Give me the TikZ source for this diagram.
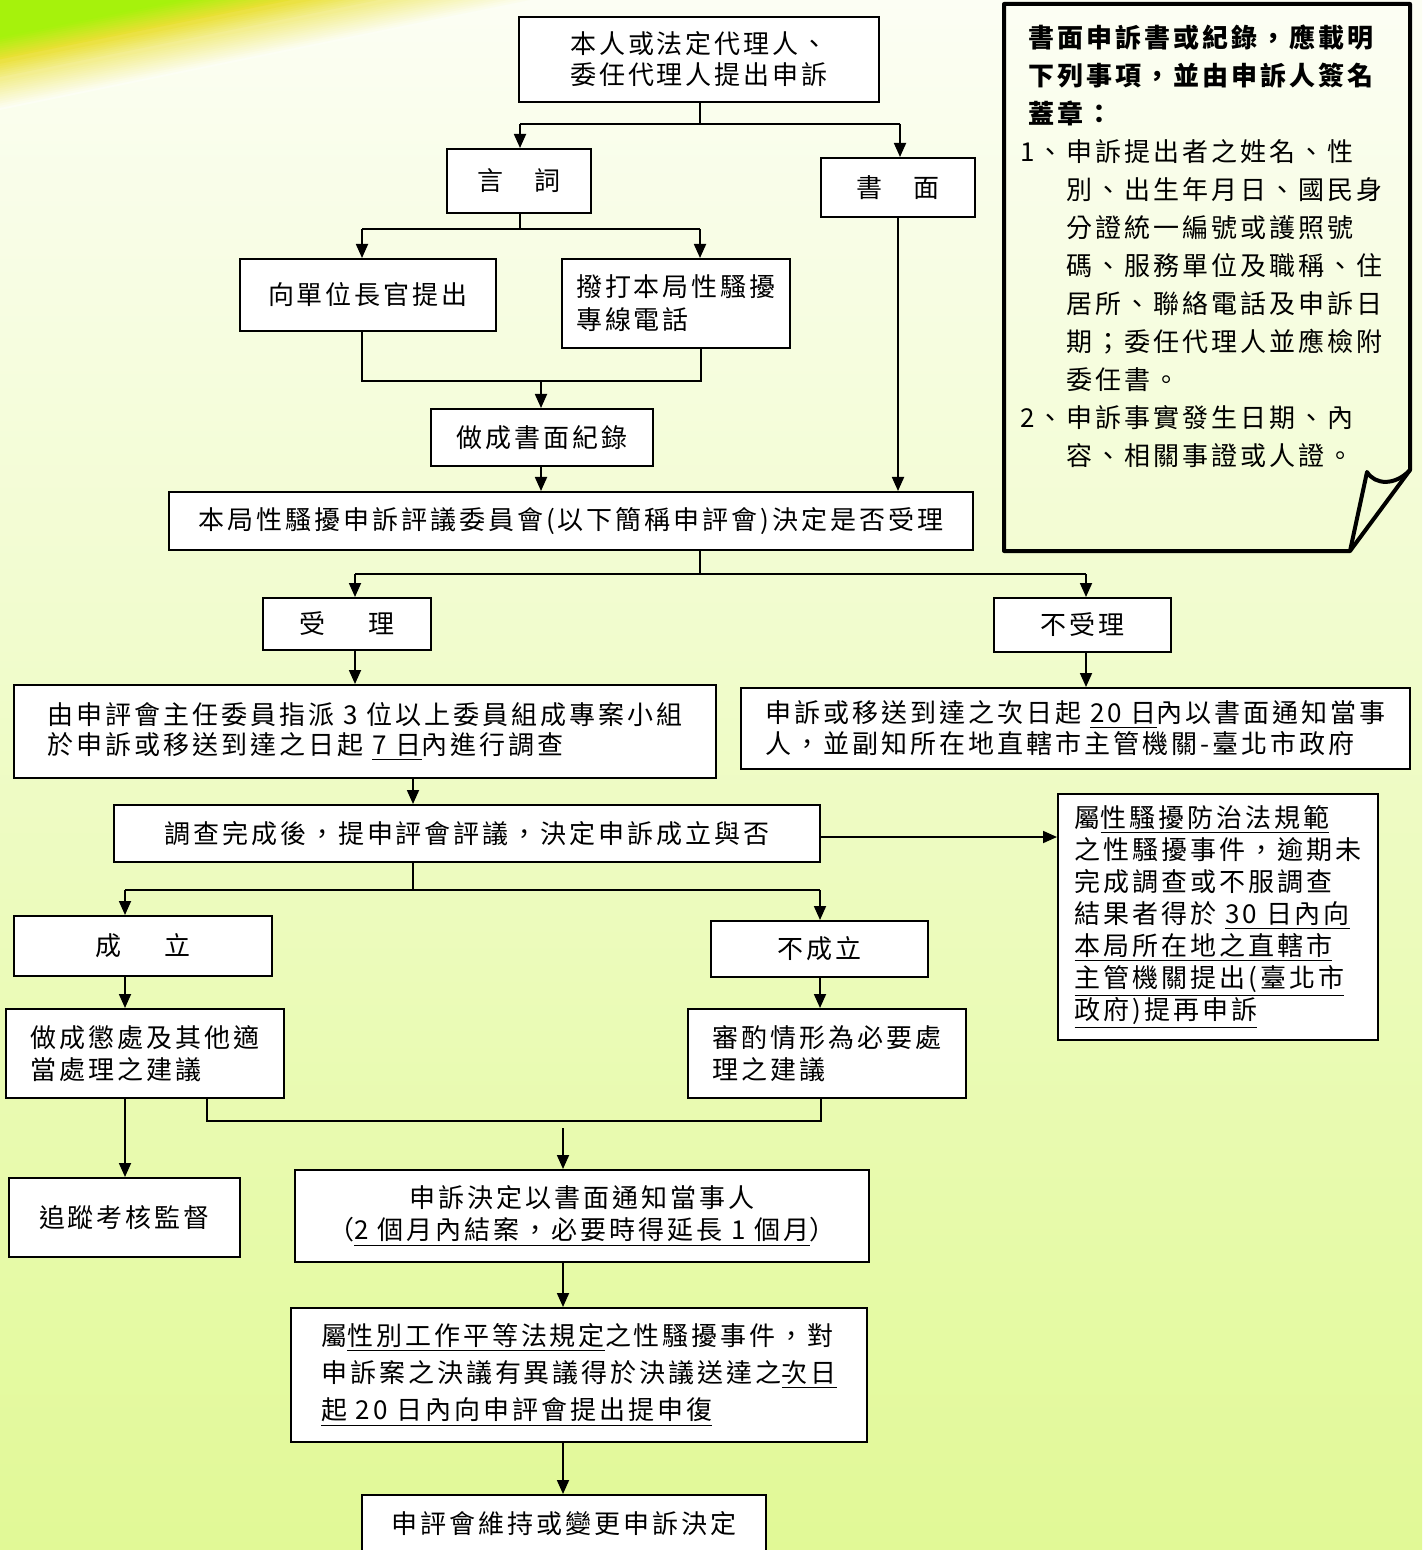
\documentclass[tikz,border=0pt]{standalone}
\usepackage{fontspec}
\setmainfont{Noto Sans CJK TC}[LetterSpace=11.5]
\usetikzlibrary{arrows.meta}
\definecolor{bgtop}{HTML}{FCFEF4}
\definecolor{bgmid}{HTML}{F1FBD2}
\definecolor{bgbot}{HTML}{E1F996}
\definecolor{limec}{HTML}{A6F20C}
\definecolor{goldc}{HTML}{EAE034}
\begin{document}
\begin{tikzpicture}[x=0.5pt,y=-0.5pt,
  box/.style={draw=black, line width=1pt, fill=white, inner sep=0pt, align=center, font=\fontsize{13}{16}\selectfont},
  lbox/.style={box, align=left},
  conn/.style={line width=0.9pt},
  arr/.style={conn, -{Triangle[length=7pt,width=6pt]}},
  notestyle/.style={line width=2pt, line join=round},
]
\useasboundingbox (0,0) rectangle (1422,1550);
\clip (0,0) rectangle (1422,1550);
% background
\shade[top color=bgtop, middle color=bgmid, bottom color=bgbot] (0,0) rectangle (1422,1550);
% top-left swoosh: nested triangles
\foreach \t in {1.00,0.98,...,0.72}{
  \pgfmathtruncatemacro\p{(1-\t)/0.30*60}
  \fill[goldc!\p!bgtop] (0,0) -- ({540*\t},0) -- (0,{110*\t}) -- cycle;
}
\foreach \t in {0.70,0.68,...,0.56}{
  \pgfmathtruncatemacro\p{60+(0.70-\t)/0.15*40}
  \fill[goldc!\p!bgtop] (0,0) -- ({540*\t},0) -- (0,{110*\t}) -- cycle;
}
\foreach \t in {0.54,0.52,...,0.36}{
  \pgfmathtruncatemacro\p{(0.55-\t)/0.20*100}
  \fill[limec!\p!goldc] (0,0) -- ({540*\t},0) -- (0,{110*\t}) -- cycle;
}
\fill[limec] (0,0) -- ({540*0.34},0) -- (0,{110*0.34}) -- cycle;

% boxes
\node[box, minimum width=180pt, minimum height=42.5pt, font=\fontsize{13}{15.5}\selectfont] (top) at (699,59.5) {本人或法定代理人、\\委任代理人提出申訴};
\node[box, minimum width=72pt, minimum height=32pt] (yanci) at (519,181) {言　詞};
\node[box, minimum width=77pt, minimum height=29.5pt] (shumian) at (898,187.5) {書　面};
\node[box, minimum width=128pt, minimum height=36pt] (xiang) at (368,295) {向單位長官提出};
\node[lbox, minimum width=114pt, minimum height=44.5pt, font=\fontsize{13}{16.5}\selectfont] (boda) at (676,303.5) {撥打本局性騷擾\\專線電話};
\node[box, minimum width=111pt, minimum height=28.5pt] (zuocheng) at (542,437.5) {做成書面紀錄};
\node[box, minimum width=402pt, minimum height=29pt] (shenping) at (571,521) {本局性騷擾申訴評議委員會(以下簡稱申評會)決定是否受理};
\node[box, minimum width=84pt, minimum height=26pt] (shouli) at (347,624) {受\hspace{22pt}理};
\node[box, minimum width=88.5pt, minimum height=27pt] (bushouli) at (1082.5,625) {不受理};
\node[lbox, minimum width=351pt, minimum height=46.5pt, font=\fontsize{13}{15}\selectfont] (zhipai) at (365,731.5) {由申評會主任委員指派 3 位以上委員組成專案小組\\於申訴或移送到達之日起 \underline{7 日}內進行調查};
\node[lbox, minimum width=334.5pt, minimum height=40.5pt, font=\fontsize{13}{15.5}\selectfont] (tongzhi) at (1075.5,728.5) {申訴或移送到達之次日起 \underline{20 日}內以書面通知當事\\人，並副知所在地直轄市主管機關-臺北市政府};
\node[box, minimum width=353pt, minimum height=28.5pt] (diaocha) at (467,833.5) {調查完成後，提申評會評議，決定申訴成立與否};
\node[lbox, minimum width=160pt, minimum height=123pt] (fangzhi) at (1218,917) {屬\underline{性騷擾防治法規範}\\之性騷擾事件，逾期未\\完成調查或不服調查\\結果者得於 \underline{30 日內向}\\\underline{本局所在地之直轄市}\\\underline{主管機關提出(臺北市}\\\underline{政府)提再申訴}};
\node[box, minimum width=129pt, minimum height=30pt] (chengli) at (143,946) {成\hspace{22pt}立};
\node[box, minimum width=108.5pt, minimum height=28pt] (buchengli) at (819.5,949) {不成立};
\node[lbox, minimum width=139pt, minimum height=44.5pt] (chengchu) at (145,1053.5) {做成懲處及其他適\\當處理之建議};
\node[lbox, minimum width=139pt, minimum height=44.5pt] (shenzhuo) at (827,1053.5) {審酌情形為必要處\\理之建議};
\node[box, minimum width=115.5pt, minimum height=39.5pt] (zhuizong) at (124.5,1217.5) {追蹤考核監督};
\node[box, minimum width=287pt, minimum height=46pt] (jueding) at (582,1216) {申訴決定以書面通知當事人\\（\underline{2 個月內結案，必要時得延長 1 個月}）};
\node[lbox, minimum width=288pt, minimum height=67pt, font=\fontsize{13}{18.5}\selectfont] (xingbie) at (579,1375) {屬\underline{性別工作平等法規定}之性騷擾事件，對\\申訴案之決議有異議得於決議送達之\underline{次日}\\\underline{起 20 日內向申評會提出提申復}};
\node[box, minimum width=202pt, minimum height=29pt] (weichi) at (564,1524) {申評會維持或變更申訴決定};

% note box
\draw[notestyle] (1350,551) -- (1004,551) -- (1004,4) -- (1410,4) -- (1410,470) -- cycle;
\draw[notestyle] (1410,470) .. controls (1395,486) and (1375,485) .. (1367,472) -- (1350,551);
\node[anchor=north west, inner sep=0pt, align=left, font=\fontsize{13}{19}\selectfont] (note) at (1020,24) {%
\hspace*{4pt}\bfseries 書面申訴書或紀錄，應載明\\
\hspace*{4pt}\bfseries 下列事項，並由申訴人簽名\\
\hspace*{4pt}\bfseries 蓋章：\\
\makebox[23pt][l]{1、}申訴提出者之姓名、性\\
\hspace*{23pt}別、出生年月日、國民身\\
\hspace*{23pt}分證統一編號或護照號\\
\hspace*{23pt}碼、服務單位及職稱、住\\
\hspace*{23pt}居所、聯絡電話及申訴日\\
\hspace*{23pt}期；委任代理人並應檢附\\
\hspace*{23pt}委任書。\\
\makebox[23pt][l]{2、}申訴事實發生日期、內\\
\hspace*{23pt}容、相關事證或人證。};

% connectors
\coordinate (j1) at (700,124);
\coordinate (j1l) at (520,124);
\coordinate (j1r) at (900,124);
\draw[conn] (top.south -| j1) -- (j1);
\draw[conn] (j1l) -- (j1r);
\draw[arr] (j1l) -- (yanci.north -| j1l);
\draw[arr] (j1r) -- (shumian.north -| j1r);

\coordinate (j2) at (520,229);
\coordinate (j2l) at (362,229);
\coordinate (j2r) at (700,229);
\draw[conn] (yanci.south -| j2) -- (j2);
\draw[conn] (j2l) -- (j2r);
\draw[arr] (j2l) -- (xiang.north -| j2l);
\draw[arr] (j2r) -- (boda.north -| j2r);

\coordinate (m1l) at (362,381);
\coordinate (m1r) at (701,381);
\coordinate (m1) at (541,381);
\draw[conn] (xiang.south -| m1l) -- (m1l) -- (m1r) -- (boda.south -| m1r);
\draw[arr] (m1) -- (zuocheng.north -| m1);
\draw[arr] (zuocheng.south -| m1) -- (shenping.north -| m1);
\draw[arr] (shumian.south) -- (shenping.north -| shumian.south);

\coordinate (j3) at (700,574);
\coordinate (j3l) at (355,574);
\coordinate (j3r) at (1086,574);
\draw[conn] (shenping.south -| j3) -- (j3);
\draw[conn] (j3l) -- (j3r);
\draw[arr] (j3l) -- (shouli.north -| j3l);
\draw[arr] (j3r) -- (bushouli.north -| j3r);
\draw[arr] (shouli.south -| j3l) -- (zhipai.north -| j3l);
\draw[arr] (bushouli.south -| j3r) -- (tongzhi.north -| j3r);

\coordinate (x413) at (413,890);
\coordinate (y837) at (0,837);
\draw[arr] (zhipai.south -| x413) -- (diaocha.north -| x413);
\draw[arr] (diaocha.east |- y837) -- (fangzhi.west |- y837);
\draw[conn] (diaocha.south -| x413) -- (x413);
\coordinate (j4l) at (125,890);
\coordinate (j4r) at (820,890);
\draw[conn] (j4l) -- (j4r);
\draw[arr] (j4l) -- (chengli.north -| j4l);
\draw[arr] (j4r) -- (buchengli.north -| j4r);
\draw[arr] (chengli.south -| j4l) -- (chengchu.north -| j4l);
\draw[arr] (buchengli.south -| j4r) -- (shenzhuo.north -| j4r);
\draw[arr] (chengchu.south -| j4l) -- (zhuizong.north -| j4l);

\coordinate (m2l) at (207,1121);
\coordinate (m2r) at (821,1121);
\coordinate (m2) at (563,1128);
\draw[conn] (chengchu.south -| m2l) -- (m2l) -- (m2r) -- (shenzhuo.south -| m2r);
\draw[arr] (m2) -- (jueding.north -| m2);
\draw[arr] (jueding.south -| m2) -- (xingbie.north -| m2);
\draw[arr] (xingbie.south -| m2) -- (weichi.north -| m2);
\end{tikzpicture}
\end{document}
